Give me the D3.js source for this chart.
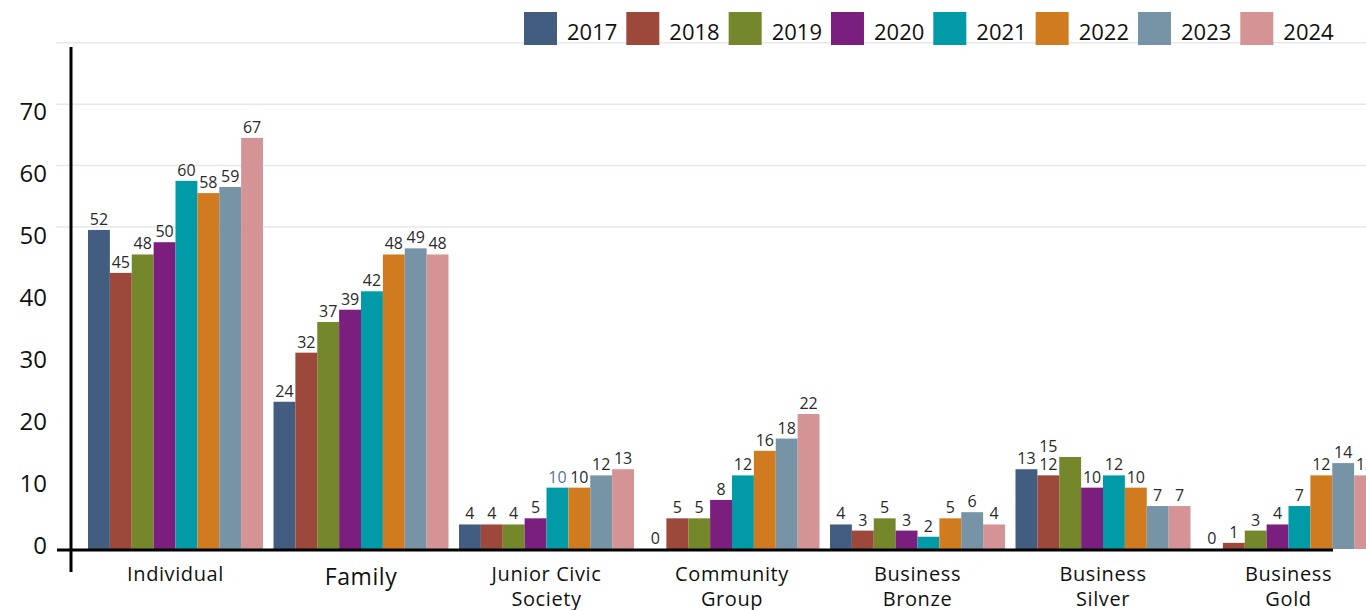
<!DOCTYPE html>
<html>
<head>
<meta charset="utf-8">
<script src="https://cdn.jsdelivr.net/npm/d3@7"></script>
<style>
  body { margin: 0; background: #fff; }
  svg { display: block; font-family: "Open Sans", sans-serif; }
</style>
</head>
<body>
<div id="chart"></div>
<script>
// categories and series (one array per year, same order as categories)
const categories = ["Individual", "Family", "Junior Civic Society", "Community Group",
                    "Business Bronze", "Business Silver", "Business Gold"];
const years = ["2017", "2018", "2019", "2020", "2021", "2022", "2023", "2024"];

const v2017 = [52, 24, 4, 0, 4, 13, 0];
const v2018 = [45, 32, 4, 5, 3, 12, 1];
const v2019 = [48, 37, 4, 5, 5, 15, 3];
const v2020 = [50, 39, 5, 8, 3, 10, 4];
const v2021 = [60, 42, 10, 12, 2, 12, 7];
const v2022 = [58, 48, 10, 16, 5, 10, 12];
const v2023 = [59, 49, 12, 18, 6, 7, 14];
const v2024 = [67, 48, 13, 22, 4, 7, 12];

const yTicks = [0, 10, 20, 30, 40, 50, 60, 70];
const gridValues = [52.5, 62.5, 72.5, 82.5];

const series = [v2017, v2018, v2019, v2020, v2021, v2022, v2023, v2024];
const colors = ["#435d80", "#9c483b", "#74872b", "#7a1f7d", "#009ba7", "#d07b20", "#7793a6", "#d49394"];

const catLines = {
    "Junior Civic Society": ["Junior Civic", "Society"],
    "Community Group": ["Community", "Group"],
    "Business Bronze": ["Business", "Bronze"],
    "Business Silver": ["Business", "Silver"],
    "Business Gold": ["Business", "Gold"]
};

const width = 1366, height = 610;

const svg = d3.select("#chart").append("svg")
    .attr("width", width)
    .attr("height", height);

const y = d3.scaleLinear().domain([0, 70]).range([549, 119.5]);
const yLabel = d3.scaleLinear().domain([0, 70]).range([546, 111.5]);

const x0 = d3.scaleBand()
    .domain(categories)
    .range([82.75, 1381.25])
    .paddingInner(0.0566)
    .paddingOuter(0.0283);

const x1 = d3.scaleBand()
    .domain(years)
    .range([0, x0.bandwidth()]);

// grid
svg.append("g")
    .selectAll("line")
    .data(gridValues)
    .enter().append("line")
    .attr("x1", 56).attr("x2", width)
    .attr("y1", d => y(d)).attr("y2", d => y(d))
    .attr("stroke", "#e4e7ee")
    .attr("stroke-width", 1.5);

// bars
const rows = [];
categories.forEach((c, i) => {
    years.forEach((yr, j) => {
        rows.push({ cat: c, year: yr, value: series[j][i], color: colors[j] });
    });
});

svg.append("g")
    .selectAll("rect")
    .data(rows)
    .enter().append("rect")
    .attr("x", d => x0(d.cat) + x1(d.year))
    .attr("y", d => y(d.value))
    .attr("width", x1.bandwidth())
    .attr("height", d => y(0) - y(d.value))
    .attr("fill", d => d.color);

// value labels
svg.append("g")
    .selectAll("text")
    .data(rows)
    .enter().append("text")
    .attr("x", d => {
        let cx = x0(d.cat) + x1(d.year) + x1.bandwidth() / 2;
        if (d.cat === "Business Silver" && d.year === "2019") cx -= x1.bandwidth();
        return cx;
    })
    .attr("y", d => y(d.value) - 5)
    .attr("text-anchor", "middle")
    .style("font-size", "16px")
    .style("fill", d => (d.cat === "Junior Civic Society" && d.year === "2021") ? "#5b7494" : "#2a2a2a")
    .text(d => d.value);

// axes lines
svg.append("line")
    .attr("x1", 57).attr("x2", 1333)
    .attr("y1", y(0) + 1).attr("y2", y(0) + 1)
    .attr("stroke", "#000").attr("stroke-width", 3);

svg.append("line")
    .attr("x1", 71).attr("x2", 71)
    .attr("y1", 47).attr("y2", 572)
    .attr("stroke", "#000").attr("stroke-width", 3);

// y tick labels
svg.append("g")
    .selectAll("text")
    .data(yTicks)
    .enter().append("text")
    .attr("x", 47)
    .attr("y", d => yLabel(d))
    .attr("dy", "0.35em")
    .attr("text-anchor", "end")
    .style("font-size", "24px")
    .style("fill", "#111")
    .text(d => d);

// category labels
const catG = svg.append("g")
    .selectAll("text")
    .data(categories)
    .enter().append("text")
    .attr("x", d => x0(d) + x0.bandwidth() / 2)
    .attr("y", d => d === "Family" ? 577 : 574)
    .attr("text-anchor", "middle")
    .style("font-size", d => d === "Family" ? "23px" : "20px")
    .style("letter-spacing", "0.6px")
    .style("fill", "#111");

catG.each(function(d) {
    const lines = catLines[d] || [d];
    const t = d3.select(this);
    lines.forEach((ln, i) => {
        t.append("tspan")
            .attr("x", x0(d) + x0.bandwidth() / 2)
            .attr("dy", i === 0 ? "0.35em" : "25px")
            .text(ln);
    });
});

// legend
const legend = svg.append("g");
let lx = 524;
years.forEach((yr, j) => {
    legend.append("rect")
        .attr("x", lx).attr("y", 12)
        .attr("width", 33).attr("height", 33)
        .attr("fill", colors[j]);
    const t = legend.append("text")
        .attr("x", lx + 43)
        .attr("y", 32)
        .attr("dy", "0.35em")
        .style("font-size", "22px")
        .style("fill", "#111")
        .text(yr);
    lx = lx + 43 + t.node().getComputedTextLength() + 9;
});
</script>
</body>
</html>
